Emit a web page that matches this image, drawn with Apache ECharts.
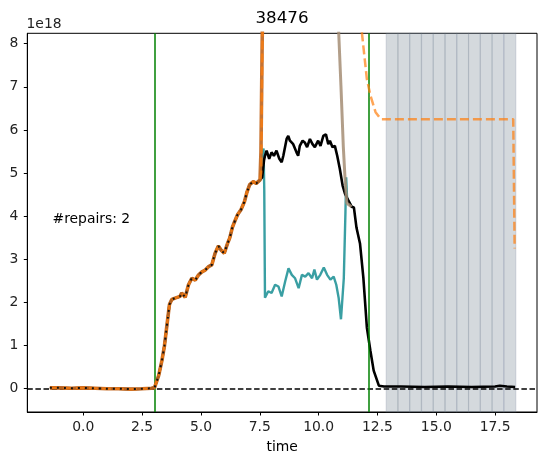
<!DOCTYPE html>
<html>
<head>
<meta charset="utf-8">
<script src="https://cdn.jsdelivr.net/npm/echarts@6/dist/echarts.min.js"></script>
<style>
  html, body { margin: 0; padding: 0; background: #fff; }
  #chart { width: 540px; height: 459px; }
</style>
</head>
<body>
<div id="chart"></div>
<script>
// values in units of 1e18, time on x
const riseShared = [
  [-1.42, 0.02], [-1.0, 0.02], [-0.5, 0.01], [0.0, 0.02], [0.5, 0.01], [1.0, 0.0],
  [1.5, 0.0], [2.0, -0.01], [2.5, 0.0], [2.9, 0.01], [3.03, 0.03], [3.2, 0.3],
  [3.34, 0.65], [3.45, 1.0], [3.56, 1.5], [3.66, 1.95], [3.76, 2.07], [3.9, 2.1],
  [4.11, 2.14], [4.18, 2.22], [4.33, 2.12], [4.47, 2.41], [4.61, 2.56], [4.76, 2.52],
  [4.9, 2.64], [5.04, 2.71], [5.18, 2.75], [5.32, 2.83], [5.46, 2.87], [5.6, 3.14],
  [5.74, 3.31], [5.86, 3.21], [5.99, 3.14], [6.13, 3.37], [6.22, 3.49], [6.34, 3.75],
  [6.45, 3.9], [6.56, 4.04], [6.7, 4.15], [6.85, 4.34], [6.95, 4.55], [7.07, 4.73],
  [7.22, 4.8], [7.35, 4.76], [7.51, 4.84]
];
const blackTail = [
  [7.6, 4.9], [7.68, 5.3], [7.72, 5.4], [7.79, 5.52], [7.9, 5.33], [8.0, 5.48],
  [8.1, 5.4], [8.21, 5.52], [8.33, 5.33], [8.43, 5.25], [8.5, 5.4], [8.64, 5.79],
  [8.71, 5.86], [8.78, 5.75], [8.92, 5.67], [9.06, 5.48], [9.13, 5.4], [9.2, 5.63],
  [9.32, 5.75], [9.41, 5.71], [9.51, 5.6], [9.63, 5.79], [9.74, 5.67], [9.84, 5.6],
  [9.98, 5.75], [10.08, 5.63], [10.2, 5.86], [10.31, 5.9], [10.41, 5.67], [10.48, 5.75],
  [10.59, 5.6], [10.69, 5.63], [10.79, 5.4], [10.9, 5.1], [11.02, 4.71], [11.12, 4.52],
  [11.26, 4.37], [11.4, 4.22], [11.5, 4.2], [11.61, 3.73], [11.76, 3.36], [11.9, 2.58],
  [12.05, 1.42], [12.2, 0.88], [12.34, 0.42], [12.56, 0.07], [12.78, 0.05], [13.5, 0.05],
  [14.5, 0.04], [15.5, 0.05], [16.5, 0.04], [17.5, 0.05], [17.7, 0.07], [18.0, 0.05],
  [18.35, 0.04]
];
const orangeTail = [
  [7.56, 5.0], [7.6, 7.5], [7.66, 10.0], [11.6, 10.0], [11.83, 8.3], [12.05, 7.18],
  [12.2, 6.8], [12.42, 6.41], [12.64, 6.25], [18.27, 6.25], [18.33, 3.25]
];
const ensUpTail = [[7.55, 5.5], [7.6, 8.0], [7.65, 10.0]];
const ensDown = [
  [10.8, 10.0], [10.85, 8.3], [10.95, 7.0], [11.05, 5.6], [11.12, 4.9], [11.2, 4.3], [11.4, 4.22]
];
const tealPts = [
  [7.07, 4.73], [7.22, 4.8], [7.35, 4.76], [7.51, 4.84], [7.58, 5.2], [7.66, 5.57],
  [7.69, 4.6], [7.72, 2.11], [7.86, 2.26], [8.0, 2.22], [8.15, 2.41], [8.29, 2.37],
  [8.43, 2.14], [8.58, 2.49], [8.72, 2.79], [8.86, 2.64], [9.0, 2.56], [9.15, 2.33],
  [9.29, 2.64], [9.43, 2.6], [9.57, 2.68], [9.72, 2.56], [9.82, 2.76], [9.93, 2.53],
  [10.07, 2.64], [10.22, 2.81], [10.36, 2.64], [10.5, 2.53], [10.64, 2.6], [10.75, 2.41],
  [10.85, 2.11], [10.95, 1.61], [11.07, 2.56], [11.14, 4.1], [11.17, 4.9], [11.21, 4.41],
  [11.4, 4.22]
];
const repairTimes = [3.03, 12.15];
const spanEdges = [12.87, 13.37, 13.87, 14.37, 14.87, 15.37, 15.87, 16.37, 16.87, 17.37, 17.87, 18.38];
const xTicks = [0, 2.5, 5, 7.5, 10, 12.5, 15, 17.5];
const yTicks = [0, 1, 2, 3, 4, 5, 6, 7, 8];

const FONT = 'DejaVu Sans';
const chart = echarts.init(document.getElementById('chart'));

const spans = [];
for (let i = 0; i < spanEdges.length - 1; i++) {
  spans.push([{ xAxis: spanEdges[i] }, { xAxis: spanEdges[i + 1] }]);
}

const option = {
  animation: false,
  grid: { left: 27.3, right: 3, top: 33.3, bottom: 44, show: true, borderColor: '#000', borderWidth: 1, backgroundColor: 'transparent' },
  xAxis: {
    type: 'value', min: -2.38, max: 19.28,
    name: 'time', nameLocation: 'middle', nameGap: 28,
    nameTextStyle: { fontFamily: FONT, fontSize: 13.9, color: '#000' },
    axisLine: { show: true, onZero: false, lineStyle: { color: '#000', width: 1 } },
    axisTick: { show: true, length: 3.5, customValues: xTicks, lineStyle: { color: '#000' } },
    axisLabel: { customValues: xTicks, margin: 8, fontFamily: FONT, fontSize: 13.9, color: '#222', formatter: v => v.toFixed(1) },
    splitLine: { show: false }
  },
  yAxis: {
    type: 'value', min: -0.54, max: 8.24,
    axisLine: { show: true, onZero: false, lineStyle: { color: '#000', width: 1 } },
    axisTick: { show: true, length: 3.5, customValues: yTicks, lineStyle: { color: '#000' } },
    axisLabel: { customValues: yTicks, margin: 9, fontFamily: FONT, fontSize: 13.9, color: '#222' },
    splitLine: { show: false }
  },
  graphic: [
    { type: 'text', x: 282, y: 19, style: { text: '38476', fontFamily: FONT, fontSize: 16.7, fill: '#000', align: 'center', verticalAlign: 'middle' } },
    { type: 'text', x: 26.5, y: 24.5, style: { text: '1e18', fontFamily: FONT, fontSize: 13.9, fill: '#222', align: 'left', verticalAlign: 'middle' } },
    { type: 'text', x: 52.5, y: 219.5, style: { text: '#repairs: 2', fontFamily: FONT, fontSize: 13.9, fill: '#000', align: 'left', verticalAlign: 'middle' } }
  ],
  series: [
    {
      name: 'spans', type: 'line', data: [], z: 1, silent: true,
      markArea: {
        silent: true,
        itemStyle: { color: 'rgba(112,128,144,0.3)', borderColor: 'rgba(112,128,144,0.22)', borderWidth: 1.2 },
        data: spans
      }
    },
    {
      name: 'teal', type: 'line', data: tealPts, z: 3, symbol: 'none', silent: true,
      lineStyle: { color: '#2f9a9e', width: 2.4, opacity: 0.95 }
    },
    {
      name: 'truth', type: 'line', data: riseShared.concat(blackTail), z: 4, symbol: 'none', silent: true,
      lineStyle: { color: '#000', width: 2.6 },
      markLine: {
        silent: true, symbol: ['none', 'none'], label: { show: false },
        data: [
          { yAxis: 0, lineStyle: { color: '#000', width: 1.5, type: [5.5, 2.6] } }
        ].concat(repairTimes.map(t => ({ xAxis: t, lineStyle: { color: '#008000', width: 1.5, type: 'solid' } })))
      }
    },
    {
      name: 'ensDown', type: 'line', data: ensDown, z: 4, symbol: 'none', silent: true,
      lineStyle: { color: '#a58d74', width: 3, opacity: 0.85 }
    },
    {
      name: 'ensUp', type: 'line', data: riseShared.concat(ensUpTail), z: 5, symbol: 'none', silent: true,
      lineStyle: { color: '#c2671f', width: 3.6, opacity: 0.92 }
    },
    {
      name: 'pred', type: 'line', data: riseShared.concat(orangeTail), z: 6, symbol: 'none', silent: true,
      lineStyle: { color: '#ff7f0e', width: 2.5, opacity: 0.7, type: [9, 4] }
    },
    {
      name: 'truthDots', type: 'line', data: riseShared, z: 7, symbol: 'none', silent: true,
      lineStyle: { color: '#111', width: 2, type: [2, 5] }
    }
  ]
};
chart.setOption(option);
</script>
</body>
</html>
